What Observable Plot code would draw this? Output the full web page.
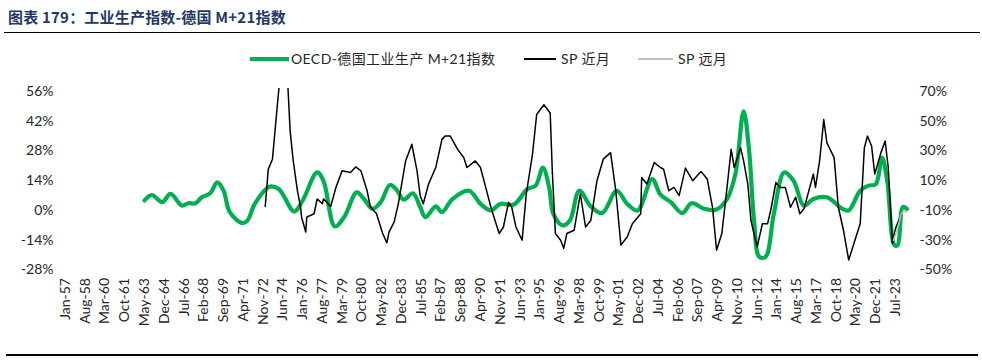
<!DOCTYPE html>
<html>
<head>
<meta charset="utf-8">
<script src="https://cdn.jsdelivr.net/npm/d3@7"></script>
<script src="https://cdn.jsdelivr.net/npm/@observablehq/plot@0.6"></script>
<style>
  html, body { margin: 0; padding: 0; background: #fff; }
  #wrap { position: relative; width: 982px; height: 364px; overflow: hidden; font-family: Lato, "Noto Sans CJK SC", sans-serif; }
  #title { position: absolute; left: 8px; top: 6px; font: bold 15px "Noto Sans CJK SC", sans-serif; color: #1F3864; white-space: nowrap; letter-spacing: 0.2px; }
  #topRule { position: absolute; left: 4px; top: 32px; width: 976px; height: 1.4px; background: #000; }
  #botRule { position: absolute; left: 6px; top: 354px; width: 972px; height: 2px; background: #000; }
  #chart { position: absolute; left: 0; top: 40px; }
  .lg { position: absolute; top: 50px; font: 14px Lato, "Noto Sans CJK SC", sans-serif; color: #262626; white-space: nowrap; line-height: 18px; letter-spacing: 0.4px; }
  .sw { position: absolute; }
</style>
</head>
<body>
<div id="wrap">
  <div id="title">图表 179：工业生产指数-德国 M+21指数</div>
  <div id="topRule"></div>
  <div class="sw" style="left:250px;top:57px;width:39px;height:4px;background:#00B050"></div>
  <div class="lg" style="left:291px">OECD-德国工业生产 M+21指数</div>
  <div class="sw" style="left:524px;top:58px;width:32px;height:2px;background:#000"></div>
  <div class="lg" style="left:561px">SP 近月</div>
  <div class="sw" style="left:638px;top:58px;width:35px;height:1.5px;background:#BFBFBF"></div>
  <div class="lg" style="left:678px">SP 远月</div>
  <div id="chart"></div>
  <div id="botRule"></div>
</div>
<script>
// X-axis tick labels (every 19 months)
const xTickLabels = ["Jan-57","Aug-58","Mar-60","Oct-61","May-63","Dec-64","Jul-66","Feb-68","Sep-69","Apr-71","Nov-72","Jun-74","Jan-76","Aug-77","Mar-79","Oct-80","May-82","Dec-83","Jul-85","Feb-87","Sep-88","Apr-90","Nov-91","Jun-93","Jan-95","Aug-96","Mar-98","Oct-99","May-01","Dec-02","Jul-04","Feb-06","Sep-07","Apr-09","Nov-10","Jun-12","Jan-14","Aug-15","Mar-17","Oct-18","May-20","Dec-21","Jul-23"];
const leftTicks = [-28, -14, 0, 14, 28, 42, 56];          // left axis (%)
const rightTicks = [-50, -30, -10, 10, 30, 50, 70];        // right axis (%)

// OECD-德国工业生产 M+21指数 (left axis, %)
const greenDates = ["1963-05","1963-12","1964-10","1965-06","1966-05","1966-11","1967-06","1967-12","1968-08","1969-03","1969-09","1970-03","1971-03","1971-08","1972-03","1973-05","1974-02","1975-05","1976-01","1977-03","1977-09","1978-08","1979-05","1980-05","1980-12","1981-08","1982-04","1983-01","1983-08","1984-02","1984-11","1985-06","1985-11","1986-09","1987-03","1988-01","1989-05","1990-04","1991-02","1991-11","1992-12","1994-01","1994-09","1995-04","1995-10","1996-02","1996-11","1997-06","1998-03","1999-02","2000-01","2001-03","2002-01","2002-11","2004-01","2004-09","2005-07","2006-06","2007-03","2008-03","2009-02","2010-01","2010-09","2011-05","2011-10","2012-03","2012-08","2013-02","2013-10","2014-08","2015-05","2016-03","2016-12","2018-01","2019-04","2019-10","2020-09","2021-05","2021-12","2022-06","2022-11","2023-06","2023-09","2024-02","2024-06"];
const greenValues = [4.7,7.3,3.9,7.8,2.3,3.4,3.4,6.2,8.1,13.2,9.3,-0.8,-5.9,-4.7,3.1,11.2,10.1,-0.5,4.7,17.9,14,-7.5,-3.1,8.5,5.4,0.8,3.9,12,9.3,5.1,8.1,1.6,-3.1,1.9,-0.8,5.4,9.3,3.1,0,3.1,2.8,10.1,11.7,20.2,10.9,-1.6,-7,-4.7,9.3,1.9,-1.2,9.3,3.1,0,14.8,7.5,3.9,-1.2,3.4,0.8,0.3,5.4,17.1,46.7,29.5,-4.7,-21.8,-21.8,-1.6,17.9,14,2.3,5.4,6.2,0.8,0,9.3,11.7,12.4,24.9,14,-16.3,-16.3,1.6,0.8];

// SP 近月 (right axis, %)
const nearDates = ["1973-01","1973-04","1973-08","1974-01","1974-06","1974-10","1975-01","1975-04","1975-08","1975-11","1975-12","1976-04","1976-05","1976-12","1977-03","1977-08","1977-09","1978-04","1978-09","1979-03","1979-11","1980-04","1980-09","1981-03","1981-06","1981-12","1982-06","1982-10","1982-12","1983-05","1983-09","1984-04","1984-10","1985-03","1985-06","1985-09","1986-02","1986-09","1987-03","1987-06","1987-11","1988-06","1988-12","1989-03","1989-11","1990-04","1990-09","1991-02","1991-06","1991-10","1992-02","1992-07","1992-10","1993-02","1993-08","1993-12","1994-06","1994-10","1995-05","1995-11","1996-01","1996-04","1996-09","1996-12","1997-03","1997-10","1998-04","1998-09","1999-02","1999-08","2000-02","2000-09","2001-02","2001-07","2002-01","2002-06","2003-02","2003-03","2003-08","2004-03","2004-09","2004-12","2005-05","2005-10","2006-03","2006-09","2007-04","2007-12","2008-06","2008-11","2009-03","2009-08","2010-01","2010-05","2010-08","2011-02","2011-05","2011-09","2011-12","2012-06","2012-11","2013-04","2013-07","2013-12","2014-04","2014-09","2015-02","2015-07","2015-11","2016-03","2016-12","2017-02","2017-06","2017-10","2018-01","2018-08","2018-12","2019-05","2019-10","2020-03","2020-09","2021-01","2021-04","2021-08","2021-11","2022-05","2022-09","2022-12","2023-04","2023-07","2023-10","2024-01"];
const nearValues = [-7.3,17.8,24.5,63.3,100,85,43.3,23.3,3.3,-7.8,-14.5,-24.5,-14.5,-12.2,-2.2,-5.5,-2.2,-7.3,5.5,16.7,15.5,19.3,16.7,3.3,-7.3,-12.2,-25.5,-31.8,-24.5,-17.8,-5.5,23.3,34.5,16.7,0,-5.5,7.8,18.9,37.8,40,40,31.1,25.5,18.9,23.3,18.9,5.5,-7.8,-16.7,-25.5,-21.1,-4.5,-7.8,-21.1,-30,1.1,27.8,54.5,61.1,55.5,16.7,-25.5,-30,-35.5,-25.5,-23.3,1.1,-21.1,-16.7,10,24.5,28.9,3.3,-33.3,-27.8,-18.9,-12.2,12.2,7.8,22.2,18.9,17.8,3.3,5.5,0,18.5,10,16.2,11.1,-7.8,-36.7,-25.5,5.5,31.1,18.9,32.2,23.3,7.8,-16.7,-34.5,-18.9,-18.9,-10,8.9,5.5,5.5,-7.8,-1.1,-12.2,-8.9,14.5,5.5,23.3,51.1,35.5,25.5,-7.8,-23.3,-43.3,-32.2,-18.9,32.2,40,33.3,14.5,28.9,36.7,18.9,-32.2,-22.2,-16.7,-12];

// SP 远月 (right axis, %)
const farDates = ["2023-05","2023-09","2023-12","2024-03","2024-06"];
const farValues = [-30,-22,-13.3,-10,-11.3];

const parseMonth = d3.utcParse("%Y-%m");
const monthIdx = {Jan:0,Feb:1,Mar:2,Apr:3,May:4,Jun:5,Jul:6,Aug:7,Sep:8,Oct:9,Nov:10,Dec:11};
const parseLabel = s => { const yy = +s.slice(4); return new Date(Date.UTC(yy >= 50 ? 1900 + yy : 2000 + yy, monthIdx[s.slice(0,3)], 1)); };
const xTicks = xTickLabels.map(parseLabel);

// right axis value -> left axis value
const toLeft = r => (r + 10) * 0.7;
const toRight = l => Math.round(l / 0.7 - 10);

const green = greenDates.map((d, i) => ({date: parseMonth(d), v: greenValues[i]}));
const near = nearDates.map((d, i) => ({date: parseMonth(d), v: nearValues[i]}));
const far = farDates.map((d, i) => ({date: parseMonth(d), v: farValues[i]}));

const chart = Plot.plot({
  width: 982,
  height: 310,
  marginLeft: 65,
  marginRight: 74.5,
  marginTop: 48,
  marginBottom: 80.5,
  style: {fontFamily: "Lato, 'Noto Sans CJK SC', sans-serif", fontSize: "14px", color: "#262626", background: "transparent"},
  x: {type: "utc", domain: [new Date(Date.UTC(1957,0,1)), new Date(Date.UTC(2024,6,1))]},
  y: {domain: [-28, 57.4]},
  marks: [
    Plot.axisX({ticks: xTicks, tickFormat: (d, i) => xTickLabels[i], tickRotate: -90, tickSize: 0, tickPadding: 8, label: null, fontSize: 14}),
    Plot.axisY({anchor: "left", ticks: leftTicks, tickFormat: d => d + "%", tickSize: 0, tickPadding: 12, label: null, fontSize: 14}),
    Plot.axisY({anchor: "right", ticks: rightTicks.map(toLeft), tickFormat: d => toRight(d) + "%", tickSize: 0, tickPadding: 11.5, label: null, fontSize: 14}),
    Plot.line(green, {x: "date", y: "v", stroke: "#00B050", strokeWidth: 4.2, curve: "catmull-rom"}),
    Plot.line(near, {x: "date", y: d => toLeft(d.v), stroke: "#000", strokeWidth: 1.5, clip: true}),
    Plot.line(far, {x: "date", y: d => toLeft(d.v), stroke: "#BFBFBF", strokeWidth: 1.6, clip: true})
  ]
});
document.getElementById("chart").appendChild(chart);
</script>
</body>
</html>
